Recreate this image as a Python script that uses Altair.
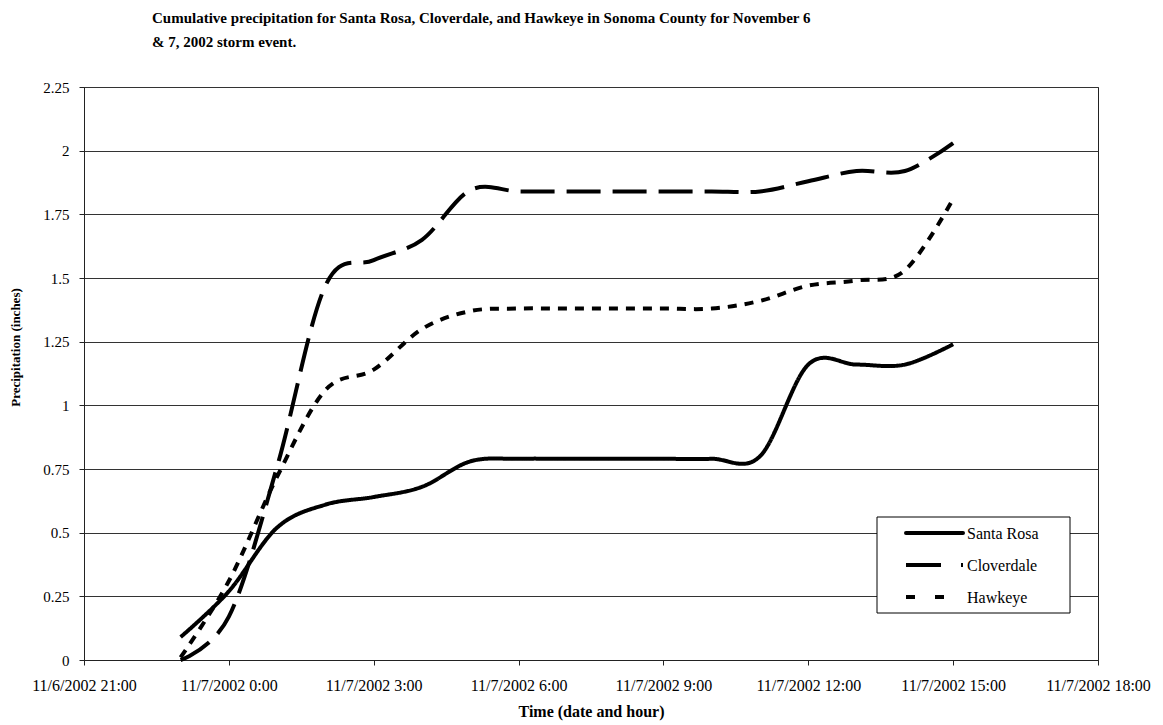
import altair as alt
import pandas as pd

times = ["2002-11-06T23:00:00Z", "2002-11-07T00:00:00Z", "2002-11-07T01:00:00Z",
         "2002-11-07T02:00:00Z", "2002-11-07T03:00:00Z", "2002-11-07T04:00:00Z",
         "2002-11-07T05:00:00Z", "2002-11-07T06:00:00Z", "2002-11-07T07:00:00Z",
         "2002-11-07T08:00:00Z", "2002-11-07T09:00:00Z", "2002-11-07T10:00:00Z",
         "2002-11-07T11:00:00Z", "2002-11-07T12:00:00Z", "2002-11-07T13:00:00Z",
         "2002-11-07T14:00:00Z", "2002-11-07T15:00:00Z"]
santa_rosa = [0.09, 0.27, 0.52, 0.61, 0.64, 0.68, 0.78, 0.79, 0.79, 0.79, 0.79, 0.79,
              0.80, 1.16, 1.16, 1.16, 1.24]
cloverdale = [0.0, 0.17, 0.76, 1.47, 1.57, 1.65, 1.845, 1.84, 1.84, 1.84, 1.84, 1.84,
              1.84, 1.88, 1.92, 1.92, 2.03]
hawkeye = [0.01, 0.31, 0.72, 1.06, 1.14, 1.30, 1.37, 1.38, 1.38, 1.38, 1.38, 1.38,
           1.41, 1.47, 1.49, 1.53, 1.81]
series = ["Santa Rosa", "Cloverdale", "Hawkeye"]
tick_times = ["2002-11-06T21:00:00Z", "2002-11-07T00:00:00Z", "2002-11-07T03:00:00Z",
              "2002-11-07T06:00:00Z", "2002-11-07T09:00:00Z", "2002-11-07T12:00:00Z",
              "2002-11-07T15:00:00Z", "2002-11-07T18:00:00Z"]
y_ticks = [0, 0.25, 0.5, 0.75, 1, 1.25, 1.5, 1.75, 2, 2.25]

line_dashes = {"Santa Rosa": [1, 0], "Cloverdale": [34, 12], "Hawkeye": [9, 8]}
legend_dashes = {"Santa Rosa": [1, 0], "Cloverdale": [35, 20], "Hawkeye": [9, 20]}

rows = []
for name, vals in zip(series, [santa_rosa, cloverdale, hawkeye]):
    for t, v in zip(times, vals):
        rows.append({"time": t, "value": v, "series": name})
df = pd.DataFrame(rows)


def ms(s):
    return int(pd.Timestamp(s).value // 10**6)


tick_ms = [ms(t) for t in tick_times]
FONT = "Liberation Serif"

base = alt.Chart(df).mark_line(
    interpolate="cardinal", strokeWidth=4, color="black", strokeCap="butt"
).encode(
    x=alt.X("time:T",
            scale=alt.Scale(type="utc", domain=[tick_ms[0], tick_ms[-1]], nice=False),
            axis=alt.Axis(values=tick_ms,
                          labelExpr="utcFormat(datum.value, '%-m/%-d/%Y %-H:%M')",
                          title="Time (date and hour)", grid=False,
                          tickSize=5, labelPadding=12, titlePadding=10,
                          labelFontSize=16, titleFontSize=16,
                          labelFlush=False, labelOverlap=False)),
    y=alt.Y("value:Q",
            scale=alt.Scale(domain=[0, 2.25], nice=False),
            axis=alt.Axis(values=y_ticks, title="Precipitation (inches)",
                          labelExpr="format(datum.value, '')",
                          grid=True, tickSize=5, labelPadding=10,
                          labelFontSize=15, titleFontSize=13,
                          titleX=-69, titleY=260, titleAngle=270,
                          titleAlign="center", titleBaseline="middle")),
    strokeDash=alt.StrokeDash("series:N",
                              scale=alt.Scale(domain=series,
                                              range=[line_dashes[s] for s in series]),
                              legend=None),
    detail="series:N",
)

# legend (drawn as marks inside the plot area)
leg_box = alt.Chart(pd.DataFrame({"k": [0]})).mark_rect(
    fill="white", stroke="black", strokeWidth=1
).encode(x=alt.value(793), x2=alt.value(986), y=alt.value(430), y2=alt.value(526))

leg_layers = [leg_box]
row_y = [446, 478, 510]
for name, yy in zip(series, row_y):
    d = pd.DataFrame({"series": [name]})
    leg_layers.append(
        alt.Chart(d).mark_rule(strokeWidth=4, color="black",
                               strokeDash=legend_dashes[name],
                               strokeCap="round" if name == "Santa Rosa" else "butt")
        .encode(x=alt.value(822), x2=alt.value(879), y=alt.value(yy))
    )
    leg_layers.append(
        alt.Chart(d).mark_text(align="left", baseline="middle", font=FONT,
                               fontSize=16, color="black")
        .encode(x=alt.value(883), y=alt.value(yy + 1), text="series:N")
    )

chart = alt.layer(base, *leg_layers).properties(
    width=1014, height=573,
    title=alt.TitleParams(
        ["Cumulative precipitation for Santa Rosa, Cloverdale, and Hawkeye in Sonoma County for November 6",
         "& 7, 2002 storm event."],
        anchor="start", frame="group", dx=68, offset=30,
        font=FONT, fontSize=15, fontWeight="bold", color="black", lineHeight=24),
    autosize=alt.AutoSizeParams(type="none"),
    padding={"left": 84, "top": 87, "right": 65, "bottom": 65},
).configure_view(
    stroke="#222", strokeWidth=1
).configure_axis(
    labelFont=FONT, labelColor="black",
    titleFont=FONT, titleFontWeight="bold", titleColor="black",
    domainColor="#222", tickColor="#222", gridColor="#333", gridWidth=1
)

chart.save("out.html", embed_options={"renderer": "svg", "actions": False})
